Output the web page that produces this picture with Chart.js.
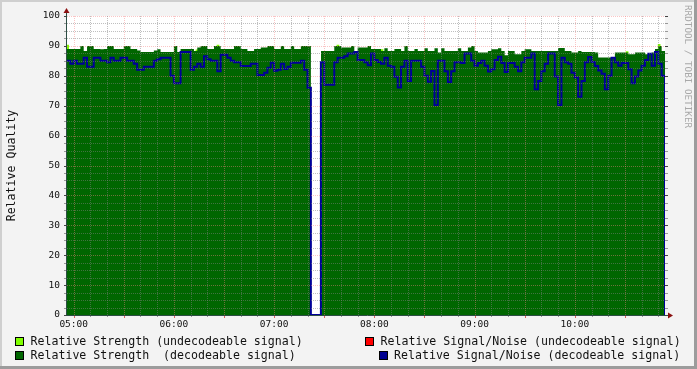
<!DOCTYPE html>
<html>
<head>
<meta charset="utf-8">
<script src="https://cdn.jsdelivr.net/npm/chart.js@4.4.1/dist/chart.umd.min.js"></script>
<style>
  html, body { margin: 0; padding: 0; background: #f3f3f3; }
  canvas { display: block; }
</style>
</head>
<body>
<canvas id="graph" width="697" height="369"></canvas>
<script>
// rrd style quality graph, one sample every 2 minutes starting 04:56
var startMin = 296;
var stepMin = 2;
var hourLabels = ["05:00", "06:00", "07:00", "08:00", "09:00", "10:00"];

// before the outage (04:56 - 07:22)
var strengthA = [
  89,89,89,89,90,88.3,90,90,89,89,
  88.9,89,90,90,89,89,89,90,90,89,
  89,88.5,88,88,88,88,88.5,88.9,88,88,
  88,88,90,88,89,89,89,89,88.3,89.5,
  90,90,89,89,90,90,89,89,89,89,
  90,90,89,89,88.3,88.3,89,89,89.5,89.5,
  90,90,89,89,90,89,89,90,89,89,
  90,90,90,90];
var snrA = [
  85,84,85,84,84,86,83,83,86,86,
  85,85,84.5,86,85,85,86,86,85,85,
  84,82,82,83,83,83,85,85.5,86,86,
  86,80,77.5,77.5,88,88,88,82,83,84,
  83,86.5,85.5,85,85,81.5,87,87,86,85,
  84.5,84.5,83.3,83.3,83.3,84,84,80.3,80.3,81,
  82.7,84.4,81.7,82,84,82.3,83,84.4,84.4,84.4,
  85,82,76];
// outage: no strength, s/n falls to zero
var strengthGap = [null, null];
var snrGap = [0, 0, 0];
// after the outage (07:28 - 10:54)
var strengthB = [
  88.3,88.3,88.3,88.3,90,90,89.5,89.5,89.5,90,
  88.3,89.5,89.5,89.5,90,89,89,89,88.3,89.2,
  88.3,88.3,89,89,88.3,90,88.3,88.3,89,88.3,
  88.3,89.2,88.3,88.3,89.2,87.8,89.2,88.3,88.3,88.3,
  88.3,89.2,88.3,88.3,89.5,90,88.3,87.8,87.8,87.8,
  88.3,88.9,88.9,89.2,88.3,86.9,88.3,88.3,87.2,87.2,
  88.3,88.9,88.9,88.3,88.3,88.3,88.3,88.3,88.3,88.3,
  88.3,89.3,89.3,88.3,88.3,87.8,87.8,88.3,88,88,
  88,88,87.8,86.1,86.1,86.1,86.1,86.1,87.8,87.8,
  87.8,87.8,87.2,87.2,87.8,87.8,87.8,87.2,87.2,87.8,
  89,90,88.3,88.3];
var snrB = [
  84.5,77,77,77,84.5,86,86,86.5,87.5,87.5,
  88,85.3,85.3,84.5,83.5,87.5,85.3,84.6,84,86,
  83.4,83,79.7,76.1,83,85,78.3,85,85,85,
  83,80,78,81.6,70.2,85,85,81.5,77.9,81.5,
  84.5,84.5,84.3,87.5,87.5,85,83.4,84.3,85,83.4,
  81.4,82.2,85.3,86.4,84.3,81.3,84.3,84.3,83,81.5,
  84.5,86,86,87.5,75.5,78.3,81.5,84,87.5,87.5,
  79.8,70.2,86,84.5,84,81,79.4,73,78.3,84.5,
  86.3,84.6,83.3,81.8,80.7,75.5,80,86,84.5,83.4,
  84.3,84.3,82.2,77.5,79.8,81.8,83.4,85.3,87.4,83.4,
  88,84,80,0];
// little bits of undecodeable signal peeking over the top  [minute, value]
var weakSpecks = [[296.4, 90.3], [373.8, 88.7], [386.4, 90.3], [458.2, 90.3],
                  [479.2, 88.8], [484.6, 88.8], [631.3, 88.1], [650.5, 90.5]];
var badSnr = [];

function toPoints(vals) {
  return vals.map(function (v, i) { return { x: startMin + i * stepMin, y: v }; });
}
function hhmm(m) {
  var h = Math.floor(m / 60), mm = Math.round(m % 60);
  return (h < 10 ? "0" : "") + h + ":" + (mm < 10 ? "0" : "") + mm;
}
function labelToMin(s) {
  var p = s.split(":");
  return +p[0] * 60 + +p[1];
}

var mono = "'DejaVu Sans Mono', monospace";
var gridMinor = "rgba(128,128,128,0.5)";
var gridMajor = "rgba(245,128,128,0.45)";

// grid, axes, arrows drawn rrd style over the graph
var rrdFrame = {
  id: "rrdFrame",
  beforeDraw: function (chart) {
    var ctx = chart.ctx, a = chart.chartArea, w = chart.width, h = chart.height;
    ctx.save();
    ctx.fillStyle = "#f3f3f3";
    ctx.fillRect(0, 0, w, h);
    ctx.fillStyle = "#cfcfcf";
    ctx.fillRect(0, 0, w, 2);
    ctx.fillRect(0, 0, 2, h);
    ctx.fillStyle = "#9c9c9c";
    ctx.fillRect(0, h - 3, w, 3);
    ctx.fillRect(w - 3, 0, 3, h);
    ctx.fillStyle = "#ffffff";
    ctx.fillRect(a.left, a.top, a.right - a.left, a.bottom - a.top);
    ctx.restore();
  },
  afterDatasetsDraw: function (chart) {
    var ctx = chart.ctx, a = chart.chartArea;
    var xs = chart.scales.x, ys = chart.scales.y;
    ctx.save();
    ctx.lineWidth = 1;
    ctx.setLineDash([1, 1]);
    var v, p;
    // horizontal
    for (v = 2.5; v <= 100; v += 2.5) {
      p = Math.round(ys.getPixelForValue(v)) + 0.5;
      ctx.strokeStyle = v % 10 === 0 ? gridMajor : gridMinor;
      ctx.beginPath(); ctx.moveTo(a.left, p); ctx.lineTo(a.right, p); ctx.stroke();
    }
    // vertical
    for (v = Math.ceil(xs.min / 10) * 10; v <= xs.max; v += 10) {
      p = Math.round(xs.getPixelForValue(v)) + 0.5;
      ctx.strokeStyle = v % 30 === 0 ? gridMajor : gridMinor;
      ctx.beginPath(); ctx.moveTo(p, a.top); ctx.lineTo(p, a.bottom); ctx.stroke();
    }
    ctx.setLineDash([]);
    // small ticks
    for (v = 0; v <= 100; v += 2.5) {
      p = Math.round(ys.getPixelForValue(v)) + 0.5;
      ctx.strokeStyle = v % 10 === 0 ? "#444" : "#999";
      ctx.beginPath();
      ctx.moveTo(a.left - 3, p); ctx.lineTo(a.left, p);
      ctx.moveTo(a.right, p); ctx.lineTo(a.right + 3, p);
      ctx.stroke();
    }
    for (v = Math.ceil(xs.min / 10) * 10; v <= xs.max; v += 10) {
      p = Math.round(xs.getPixelForValue(v)) + 0.5;
      ctx.strokeStyle = v % 30 === 0 ? "#e06060" : "#999";
      ctx.beginPath(); ctx.moveTo(p, a.bottom); ctx.lineTo(p, a.bottom + (v % 30 === 0 ? 3 : 2)); ctx.stroke();
    }
    // axes
    var ax = Math.round(a.left) - 0.5, ay = Math.round(a.bottom) + 0.5;
    ctx.strokeStyle = "#2c4d43";
    ctx.beginPath();
    ctx.moveTo(ax, ay); ctx.lineTo(ax, a.top - 5);
    ctx.moveTo(ax, ay); ctx.lineTo(a.right + 4, ay);
    ctx.stroke();
    // arrows
    ctx.fillStyle = "#8b1010";
    ctx.beginPath();
    ctx.moveTo(ax, a.top - 8); ctx.lineTo(ax - 3, a.top - 3); ctx.lineTo(ax + 3, a.top - 3); ctx.closePath();
    ctx.fill();
    ctx.beginPath();
    ctx.moveTo(a.right + 8, ay); ctx.lineTo(a.right + 3, ay - 3); ctx.lineTo(a.right + 3, ay + 3); ctx.closePath();
    ctx.fill();
    ctx.restore();
  },
  afterDraw: function (chart) {
    var ctx = chart.ctx, ds = chart.data.datasets;
    ctx.save();
    // legend, two columns like rrdtool lays it out
    var spots = [
      { d: 1, bx: 15.5, tx: 30.5, by: 337.5, ty: 345 },
      { d: 3, bx: 365.5, tx: 380.5, by: 337.5, ty: 345 },
      { d: 0, bx: 15.5, tx: 30.5, by: 351.5, ty: 359 },
      { d: 2, bx: 379.5, tx: 394, by: 351.5, ty: 359 }
    ];
    ctx.font = "11.6px " + mono;
    ctx.textBaseline = "alphabetic";
    ctx.lineWidth = 1;
    spots.forEach(function (s) {
      var d = ds[s.d];
      ctx.fillStyle = d.legendColor;
      ctx.fillRect(s.bx, s.by, 8, 8);
      ctx.strokeStyle = "#000";
      ctx.strokeRect(s.bx, s.by, 8, 8);
      ctx.fillStyle = "#111";
      ctx.fillText(d.label, s.tx, s.ty);
    });
    // watermark
    ctx.translate(692, 5);
    ctx.rotate(Math.PI / 2);
    ctx.font = "9.3px " + mono;
    ctx.fillStyle = "#a8a8a8";
    ctx.textBaseline = "top";
    ctx.fillText("RRDTOOL / TOBI OETIKER", 0, 0);
    ctx.restore();
  }
};

var chart = new Chart(document.getElementById("graph"), {
  type: "line",
  data: {
    datasets: [
      {
        label: "Relative Strength  (decodeable signal)",
        data: toPoints(strengthA.concat(strengthGap, strengthB)),
        legendColor: "#006600",
        backgroundColor: "#006600",
        borderWidth: 0,
        fill: "origin",
        stepped: true,
        pointRadius: 0,
        order: 2
      },
      {
        type: "bar",
        label: "Relative Strength (undecodeable signal)",
        data: weakSpecks.map(function (p) { return { x: p[0], y: p[1] }; }),
        legendColor: "#80ff00",
        backgroundColor: "#80ff00",
        barThickness: 2,
        order: 3
      },
      {
        label: "Relative Signal/Noise (decodeable signal)",
        data: toPoints(snrA.concat(snrGap, snrB)),
        legendColor: "#000090",
        borderColor: "#000098",
        borderWidth: 2,
        fill: false,
        stepped: true,
        pointRadius: 0,
        order: 0
      },
      {
        label: "Relative Signal/Noise (undecodeable signal)",
        data: badSnr,
        legendColor: "#ff0000",
        borderColor: "#ff0000",
        borderWidth: 1.5,
        fill: false,
        pointRadius: 0,
        order: 1
      }
    ]
  },
  options: {
    responsive: false,
    animation: false,
    devicePixelRatio: 1,
    layout: { padding: { left: 0, right: 32, top: 16, bottom: 34 } },
    plugins: {
      legend: { display: false },
      tooltip: { enabled: false }
    },
    scales: {
      x: {
        type: "linear",
        min: startMin,
        max: startMin + stepMin * 179,
        offset: false,
        grid: { display: false, drawTicks: false },
        border: { display: false },
        afterBuildTicks: function (s) {
          s.ticks = hourLabels.map(function (l) { return { value: labelToMin(l) }; });
        },
        afterFit: function (s) { s.height = 20; },
        ticks: {
          autoSkip: false,
          maxRotation: 0,
          padding: 4,
          color: "#111",
          font: { family: mono, size: 9.5 },
          callback: function (v) { return hhmm(v); }
        }
      },
      y: {
        min: 0,
        max: 100,
        grid: { display: false, drawTicks: false },
        border: { display: false },
        afterFit: function (s) { s.width = 67; },
        ticks: {
          stepSize: 10,
          padding: 7,
          color: "#111",
          font: { family: mono, size: 9.5 }
        },
        title: {
          display: true,
          text: "Relative Quality",
          color: "#111",
          padding: { top: 5, bottom: 0 },
          font: { family: mono, size: 11.6 }
        }
      }
    }
  },
  plugins: [rrdFrame]
});
</script>
</body>
</html>
